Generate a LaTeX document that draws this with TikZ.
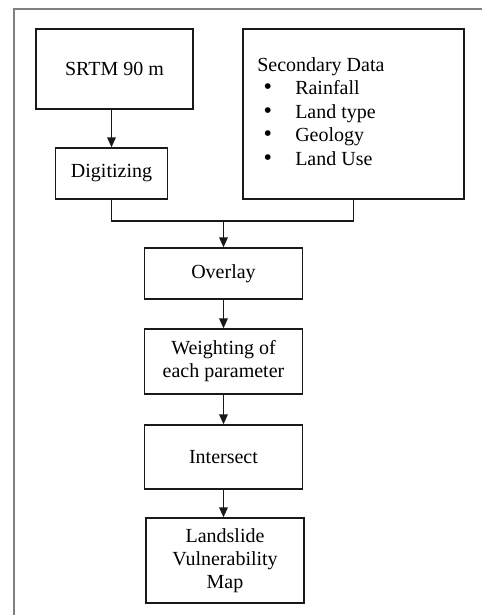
\documentclass[tikz,border=0pt]{standalone}
\usepackage{fontspec}
\setmainfont{Liberation Serif}
\usetikzlibrary{arrows.meta}
\newcommand{\bigbul}{\hbox to 28.5pt{\hspace{4.8pt}\smash{\fontsize{18}{18}\selectfont\textbullet}\hfil}}
\begin{document}
\begin{tikzpicture}[x=0.75pt,y=-0.75pt,
 box/.style={draw=black!90, line width=1.1pt, inner sep=0pt, align=center, font=\fontsize{15}{17.25}\selectfont},
 txt/.style={inner sep=0pt, align=left, font=\fontsize{15}{17.6}\selectfont},
 conn/.style={draw=black!90, line width=1.1pt},
 arr/.style={conn, -{Triangle[length=7.5pt,width=6.5pt]}},
 frame/.style={draw=black!50, line width=0.9pt}]
\useasboundingbox (0,0) rectangle (482,615);
\draw[frame] (14,615) -- (14,9) -- (482,9);
\node[box, minimum width=117.75pt, minimum height=60pt] (srtm) at (114.5,69) {SRTM 90 m};
\node[box, minimum width=84pt, minimum height=38.25pt] (dig) at (111.5,173.5) {Digitizing};
\node[box, minimum width=165.75pt, minimum height=127.5pt] (sec) at (353.5,114) {};
\node[txt, anchor=north west] (secT) at (257,57) {Secondary Data\\
\bigbul Rainfall\\
\bigbul Land type\\
\bigbul Geology\\
\bigbul Land Use};
\node[box, minimum width=118.5pt, minimum height=38.25pt] (ov) at (223.5,273.5) {Overlay};
\node[box, minimum width=118.5pt, minimum height=48.75pt] (wt) at (223.5,361.5) {Weighting of\\each parameter};
\node[box, minimum width=118.5pt, minimum height=48pt] (is) at (223.5,457) {Intersect};
\node[box, minimum width=118.5pt, minimum height=63.75pt] (ls) at (225,560.5) {Landslide\\Vulnerability\\Map};
\coordinate (j) at (223.5,221);
\draw[arr] (srtm.south -| dig.north) -- (dig.north);
\draw[conn] (dig.south) |- (j) -| (sec.south);
\draw[arr] (j) -- (ov.north);
\draw[arr] (ov.south) -- (wt.north);
\draw[arr] (wt.south) -- (is.north);
\draw[arr] (is.south) -- (is.south |- ls.north);
\end{tikzpicture}
\end{document}
